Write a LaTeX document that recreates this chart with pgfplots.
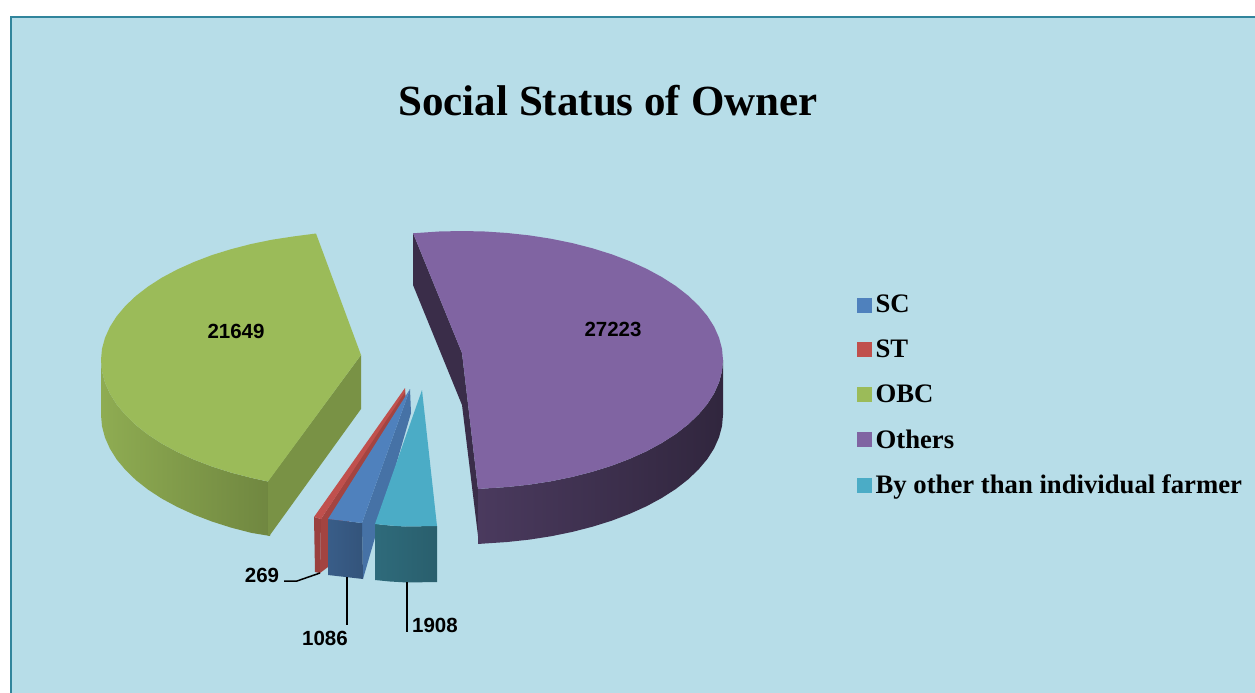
\documentclass[border=0pt]{standalone}
\usepackage{pgfplots}
\pgfplotsset{compat=1.18}
\usepackage{fontspec}
\setmainfont{Liberation Serif}
\newfontfamily\lblfont{Liberation Sans}
\definecolor{bgBlue}{HTML}{B7DDE8}
\definecolor{frameTeal}{HTML}{31859C}
\definecolor{scBlue}{HTML}{4F81BD}
\definecolor{stRed}{HTML}{C0504D}
\definecolor{obcGreen}{HTML}{9BBB59}
\definecolor{othPurple}{HTML}{8064A2}
\definecolor{byCyan}{HTML}{4BACC6}
\begin{document}
\begin{tikzpicture}
\begin{axis}[
    width=1255pt, height=693pt, scale only axis,
    xmin=0, xmax=1255, ymin=0, ymax=693,
    y dir=reverse,
    axis lines=none,
    clip=true,
    legend style={
        at={(axis cs:857,293)}, anchor=north west,
        draw=none, fill=none, inner sep=0pt,
        font=\fontsize{26.7}{30}\selectfont\bfseries,
        row sep=21.6pt,
        /tikz/every odd column/.append style={column sep=2pt},
    },
    legend cell align=left,
    legend image code/.code={\fill[#1] (0pt,-7pt) rectangle (14pt,7pt);},
]
    % page, background and frame
    \addplot[fill=white, draw=none, forget plot] coordinates {(0,0) (1255,0) (1255,693) (0,693)};
    \addplot[fill=bgBlue, draw=none, forget plot] coordinates {(10,16) (1255,16) (1255,693) (10,693)};
    \addplot[frameTeal, line width=1.6pt, forget plot] coordinates {(11,693) (11,17) (1255,17)};

    % legend entries
    \addlegendimage{scBlue}\addlegendentry{SC}
    \addlegendimage{stRed}\addlegendentry{ST}
    \addlegendimage{obcGreen}\addlegendentry{OBC}
    \addlegendimage{othPurple}\addlegendentry{Others}
    \addlegendimage{byCyan}\addlegendentry{By other than individual farmer}

    % OBC slice
    \addplot[shade, left color=obcGreen!92!black, right color=obcGreen!72!black, draw=none, forget plot] coordinates {
        (101,360) (102,371.3) (105,382.6) (109.9,393.6) (116.7,404.5) (125.4,414.9) (135.8,425) (148,434.6)
        (161.8,443.6) (177.2,451.9) (193.9,459.6) (211.9,466.5) (231,472.6) (251.1,477.8) (270,482)
        (270,536) (251.1,532.8) (231,527.6) (211.9,521.5) (193.9,514.6) (177.2,506.9) (161.8,498.6) (148,489.6)
        (135.8,480) (125.4,469.9) (116.7,459.5) (109.9,448.6) (105,437.6) (102,426.3) (101,415)};
    \addplot[fill=obcGreen!78!black, draw=none, forget plot] coordinates {
        (268,481) (361,355) (361,409) (270,535) (268,536)};
    \addplot[fill=obcGreen, draw=none, forget plot] coordinates {
        (361,355) (316,233.5) (293.7,236.4) (272.1,239.7) (251.1,244) (231,249.2) (211.9,255.1) (193.9,262)
        (177.2,269.5) (161.8,277.7) (148,286.6) (135.8,296) (125.4,305.9) (116.7,316.2) (109.9,326.9)
        (105,337.8) (102,348.8) (101,360)
        (102,371.3) (105,382.6) (109.9,393.6) (116.7,404.5) (125.4,414.9) (135.8,425) (148,434.6)
        (161.8,443.6) (177.2,451.9) (193.9,459.6) (211.9,466.5) (231,472.6) (251.1,477.8) (268,481.5)};

    % Others slice
    \addplot[fill=othPurple!45!black, draw=none, forget plot] coordinates {
        (413,233) (413,285) (462,405) (479,544) (478,489) (462,353)};
    \addplot[shade, left color=othPurple!58!black, right color=othPurple!38!black, draw=none, forget plot] coordinates {
        (478,489) (484.8,488.5) (507.3,487) (529.5,484.6) (551.3,481.2) (572.3,476.9) (592.5,471.7) (611.7,465.7)
        (629.8,458.8) (646.6,451.2) (661.9,442.9) (675.8,434) (688,424.5) (698.5,414.5) (707.3,404.1)
        (714.1,393.4) (719,382.4) (722,371.2) (723,360)
        (723,415) (722,426.2) (719,437.4) (714.1,448.4) (707.3,459.1) (698.5,469.5) (688,479.5) (675.8,489)
        (661.9,497.9) (646.6,506.2) (629.8,513.8) (611.7,520.7) (592.5,526.7) (572.3,531.9) (551.3,536.2)
        (529.5,539.6) (507.3,542) (484.8,543.5) (478,544)};
    \addplot[fill=othPurple, draw=none, forget plot] coordinates {
        (413,233) (417,233) (439,231.5) (462,231) (484.8,231.5) (507.3,233) (529.5,235.4) (551.3,238.8)
        (572.3,243.1) (592.5,248.3) (611.7,254.3) (629.8,261.2) (646.6,268.8) (661.9,277.1) (675.8,286)
        (688,295.5) (698.5,305.5) (707.3,315.9) (714.1,326.6) (719,337.6) (722,348.8) (723,360)
        (722,371.2) (719,382.4) (714.1,393.4) (707.3,404.1) (698.5,414.5) (688,424.5) (675.8,434)
        (661.9,442.9) (646.6,451.2) (629.8,458.8) (611.7,465.7) (592.5,471.7) (572.3,476.9) (551.3,481.2)
        (529.5,484.6) (507.3,487) (484.8,488.5) (478,489) (462,353)};

    % ST slice
    \addplot[fill=stRed!80!black, draw=none, forget plot] coordinates {
        (314,517) (321,519) (320,573) (315,572)};
    \addplot[fill=stRed!85!black, draw=none, forget plot] coordinates {
        (321,519) (405,390) (406,400) (328,567) (320,573)};
    \addplot[fill=stRed, draw=none, forget plot] coordinates {
        (314,517) (405,388) (405,392) (321,519)};

    % SC slice
    \addplot[fill=scBlue!88!black, draw=none, forget plot] coordinates {
        (362,523) (410,389) (411,413) (363,579)};
    \addplot[shade, left color=scBlue!72!black, right color=scBlue!65!black, draw=none, forget plot] coordinates {
        (328,519) (362,523) (363,579) (328,575)};
    \addplot[fill=scBlue, draw=none, forget plot] coordinates {
        (328,519) (362,523) (410,389)};

    % By other than individual farmer slice
    \addplot[shade, left color=byCyan!62!black, right color=byCyan!55!black, draw=none, forget plot] coordinates {
        (375,524) (390,525.5) (405,526.5) (437,526) (437,582) (407,582.5) (390,581.5) (375,580)};
    \addplot[fill=byCyan, draw=none, forget plot] coordinates {
        (375,524) (390,525.5) (405,526.5) (437,526) (422,390)};

    % leader lines
    \addplot[black, line width=1.5pt, forget plot] coordinates {(284,581) (297,581) (320,573)};
    \addplot[black, line width=1.5pt, forget plot] coordinates {(347,577) (347,625)};
    \addplot[black, line width=1.5pt, forget plot] coordinates {(407,582) (407,632)};

    % data labels
    \node[font=\lblfont\fontsize{20.5}{22}\selectfont\bfseries] at (axis cs:236,331) {21649};
    \node[font=\lblfont\fontsize{20.5}{22}\selectfont\bfseries] at (axis cs:613,329) {27223};
    \node[font=\lblfont\fontsize{20.5}{22}\selectfont\bfseries] at (axis cs:262,575) {269};
    \node[font=\lblfont\fontsize{20.5}{22}\selectfont\bfseries] at (axis cs:325,638) {1086};
    \node[font=\lblfont\fontsize{20.5}{22}\selectfont\bfseries] at (axis cs:435,625) {1908};

    % title
    \node[font=\fontsize{43}{48}\selectfont\bfseries] at (axis cs:608,101) {Social Status of Owner};
\end{axis}
\end{tikzpicture}
\end{document}
